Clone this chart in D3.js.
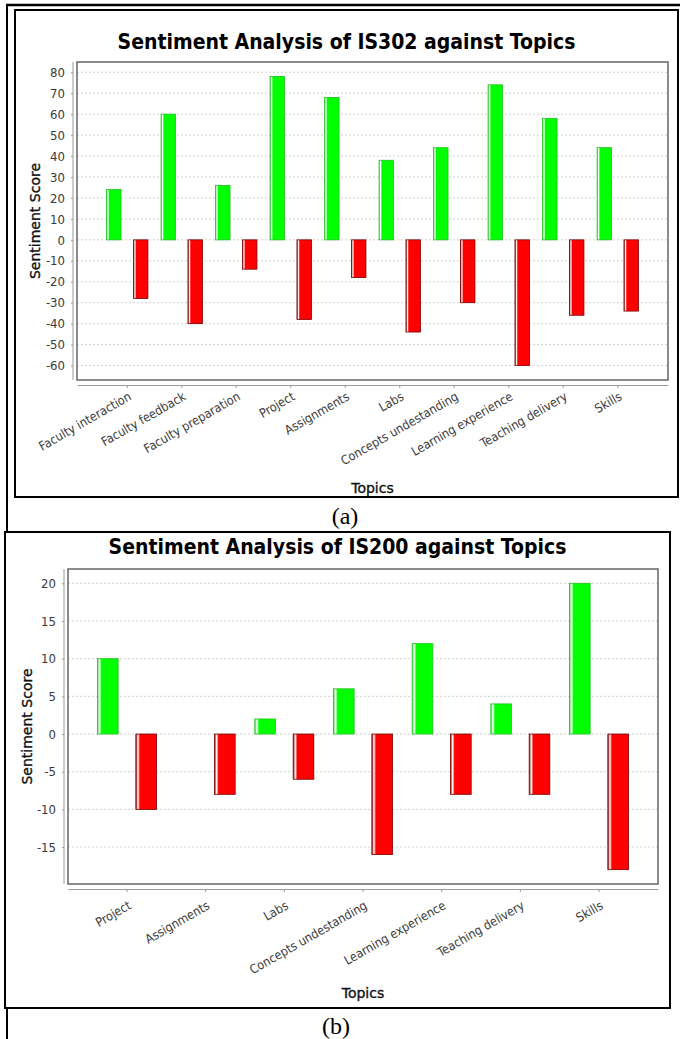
<!DOCTYPE html>
<html>
<head>
<meta charset="utf-8">
<script src="https://cdn.jsdelivr.net/npm/d3@7"></script>
<style>
  html, body { margin: 0; padding: 0; background: #fff; }
  svg { display: block; }
  .tick text { font-family: "DejaVu Sans Condensed", "DejaVu Sans", sans-serif; fill: #3a3a3a; }
</style>
</head>
<body>
<svg id="fig" width="680" height="1039"></svg>
<script>
// ---- IS302 ----
const topicsIS302 = ["Faculty interaction", "Faculty feedback", "Faculty preparation", "Project",
  "Assignments", "Labs", "Concepts undestanding", "Learning experience", "Teaching delivery", "Skills"];
const positiveIS302 = [24, 60, 26, 78, 68, 38, 44, 74, 58, 44];
const negativeIS302 = [-28, -40, -14, -38, -18, -44, -30, -60, -36, -34];
const ticksIS302 = [80, 70, 60, 50, 40, 30, 20, 10, 0, -10, -20, -30, -40, -50, -60];

// ---- IS200 ----
const topicsIS200 = ["Project", "Assignments", "Labs", "Concepts undestanding",
  "Learning experience", "Teaching delivery", "Skills"];
const positiveIS200 = [10, 0, 2, 6, 12, 4, 20];
const negativeIS200 = [-10, -8, -6, -16, -8, -8, -18];
const ticksIS200 = [20, 15, 10, 5, 0, -5, -10, -15];

const seriesKeys = ["positive", "negative"];

const svg = d3.select("#fig");
const SANS = '"DejaVu Sans Condensed", "DejaVu Sans", sans-serif';

// bar fills: thin highlight stripe near the left edge, solid body
const defs = svg.append("defs");
function barGradient(id, edge, base) {
  const g = defs.append("linearGradient").attr("id", id)
    .attr("x1", 0).attr("x2", 1).attr("y1", 0).attr("y2", 0);
  [[0, edge], [0.1, "#ffffff"], [0.2, base], [0.8, base], [1, base]].forEach(([o, c]) =>
    g.append("stop").attr("offset", o).attr("stop-color", c));
}
barGradient("fill-positive", "#44d644", "#00ff00");
barGradient("fill-negative", "#8a0000", "#ff0000");
const barStroke = { positive: "#20c020", negative: "#7a0000" };

// page rules
svg.append("line").attr("x1", 7).attr("y1", 4).attr("x2", 7).attr("y2", 1039)
  .attr("stroke", "#000").attr("stroke-width", 2);
svg.append("line").attr("x1", 6).attr("y1", 5).attr("x2", 680).attr("y2", 5)
  .attr("stroke", "#000").attr("stroke-width", 2.5);
svg.append("g").selectAll("line").data(d3.range(9)).join("line")
  .attr("x1", i => 80 + i * 66.7).attr("x2", i => 80 + i * 66.7)
  .attr("y1", 11).attr("y2", 25).attr("stroke", "#aaa").attr("stroke-width", 1);

function drawChart(o) {
  const g = svg.append("g");
  // chart frame
  g.append("rect").attr("x", o.frame[0]).attr("y", o.frame[1])
    .attr("width", o.frame[2]).attr("height", o.frame[3])
    .attr("fill", "#fff").attr("stroke", "#000").attr("stroke-width", 2);

  // title
  g.append("text").attr("x", o.frame[0] + o.frame[2] / 2).attr("y", o.titleY)
    .attr("text-anchor", "middle").attr("font-family", SANS)
    .attr("font-weight", "bold").attr("font-size", 21).attr("fill", "#000")
    .text(o.title);

  const { left, right, top, bottom } = o.plot;
  const W = right - left;
  const n = o.topics.length;

  // category axis layout: 5% outer margins, 20% category gaps
  const lowerMargin = 0.05, catMargin = 0.2, itemMargin = 0.3;
  const catW = W * (1 - 2 * lowerMargin - catMargin) / n;
  const gapW = W * catMargin / (n - 1);
  const step = catW + gapW;
  const x = d3.scaleBand().domain(o.topics).range([left, right])
    .paddingInner(gapW / step).paddingOuter((W * lowerMargin) / step);
  const xs = d3.scaleBand().domain(seriesKeys).range([0, x.bandwidth()])
    .paddingInner(2 * itemMargin / (1 + itemMargin)).paddingOuter(0);

  // value axis with 5% margins around data range
  const all = o.positive.concat(o.negative);
  const lo = d3.min(all), hi = d3.max(all), span = hi - lo;
  const y = d3.scaleLinear().domain([lo - 0.05 * span, hi + 0.05 * span]).range([bottom, top]);

  // plot background
  g.append("rect").attr("x", left).attr("y", top).attr("width", W).attr("height", bottom - top)
    .attr("fill", "#fff");

  // gridlines
  g.append("g").selectAll("line").data(o.ticks).join("line")
    .attr("x1", left).attr("x2", right)
    .attr("y1", d => y(d)).attr("y2", d => y(d))
    .attr("stroke", "#c4c4c4").attr("stroke-width", 0.8).attr("stroke-dasharray", "2,2");

  // bars
  const rows = o.topics.map((t, i) => ({ topic: t, positive: o.positive[i], negative: o.negative[i] }));
  const bars = [];
  rows.forEach(r => seriesKeys.forEach(k => { if (r[k] !== 0) bars.push({ topic: r.topic, key: k, value: r[k] }); }));
  g.append("g").selectAll("rect").data(bars).join("rect")
    .attr("x", d => x(d.topic) + xs(d.key))
    .attr("width", xs.bandwidth())
    .attr("y", d => y(Math.max(0, d.value)))
    .attr("height", d => Math.abs(y(d.value) - y(0)))
    .attr("fill", d => `url(#fill-${d.key})`)
    .attr("stroke", d => barStroke[d.key]).attr("stroke-width", 0.8);

  // plot outline
  g.append("rect").attr("x", left).attr("y", top).attr("width", W).attr("height", bottom - top)
    .attr("fill", "none").attr("stroke", "#666").attr("stroke-width", 1.5);

  // value axis
  const yAxis = g.append("g").attr("transform", `translate(${left - 4},0)`)
    .call(d3.axisLeft(y).tickValues(o.ticks).tickFormat(d => String(d))
      .tickSizeInner(2).tickSizeOuter(0).tickPadding(6));
  yAxis.select(".domain").attr("stroke", "#9a9a9a").attr("stroke-width", 1)
    .attr("d", `M0,${top}V${bottom}`);
  yAxis.selectAll(".tick line").attr("stroke", "#9a9a9a");
  yAxis.selectAll(".tick text").attr("font-size", 13);

  // category axis
  const xAxis = g.append("g").attr("transform", `translate(0,${bottom + 5})`)
    .call(d3.axisBottom(x).tickSizeInner(3).tickSizeOuter(0));
  xAxis.select(".domain").attr("stroke", "#9a9a9a").attr("stroke-width", 1.2);
  xAxis.selectAll(".tick line").attr("stroke", "#9a9a9a");
  xAxis.selectAll(".tick text")
    .attr("x", 0).attr("y", 0).attr("dy", 0)
    .attr("text-anchor", "end").attr("font-size", 12.5)
    .attr("transform", `translate(${o.labelDx},${o.labelDy}) rotate(-30)`);

  // axis titles
  g.append("text").attr("transform", `translate(${o.yTitleX},${(top + bottom) / 2}) rotate(-90)`)
    .attr("text-anchor", "middle").attr("font-family", '"DejaVu Sans", sans-serif')
    .attr("font-size", 14).attr("fill", "#111")
    .attr("stroke", "#111").attr("stroke-width", 0.35).text("Sentiment Score");
  g.append("text").attr("x", (left + right) / 2).attr("y", o.xTitleY)
    .attr("text-anchor", "middle").attr("font-family", '"DejaVu Sans", sans-serif')
    .attr("font-size", 14).attr("fill", "#111")
    .attr("stroke", "#111").attr("stroke-width", 0.35).text("Topics");

  // caption
  svg.append("text").attr("x", o.caption[1]).attr("y", o.caption[2])
    .attr("text-anchor", "middle").attr("font-family", '"Liberation Serif", serif')
    .attr("font-size", 24).attr("fill", "#000").text(o.caption[0]);
}

drawChart({
  title: "Sentiment Analysis of IS302 against Topics",
  topics: topicsIS302, positive: positiveIS302, negative: negativeIS302, ticks: ticksIS302,
  frame: [15, 10, 663, 487], titleY: 49,
  plot: { left: 77, right: 668, top: 62, bottom: 380 },
  labelDx: 5, labelDy: 14, yTitleX: 40, xTitleY: 493,
  caption: ["(a)", 345, 524]
});

drawChart({
  title: "Sentiment Analysis of IS200 against Topics",
  topics: topicsIS200, positive: positiveIS200, negative: negativeIS200, ticks: ticksIS200,
  frame: [5, 532, 665, 476], titleY: 554,
  plot: { left: 68, right: 658, top: 569, bottom: 884 },
  labelDx: 5, labelDy: 19, yTitleX: 32, xTitleY: 998,
  caption: ["(b)", 336, 1034]
});
</script>
</body>
</html>
